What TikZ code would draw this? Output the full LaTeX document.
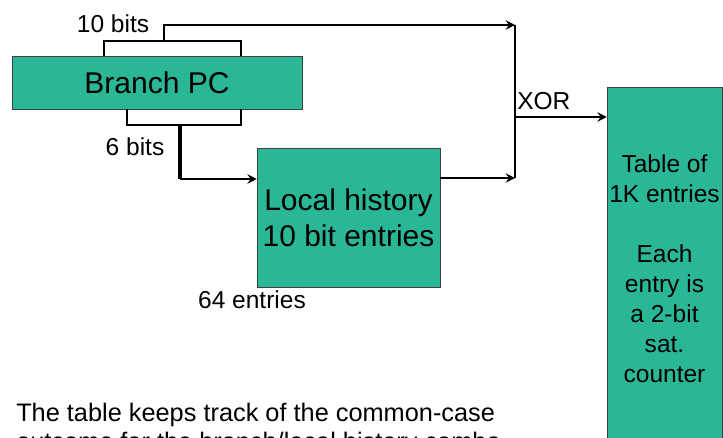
\documentclass[tikz,border=0pt]{standalone}
\usepackage{fontspec}
\setmainfont{Liberation Sans}
\usetikzlibrary{arrows.meta,positioning,calc}
\definecolor{tablegreen}{RGB}{42,183,150}

\begin{document}
\begin{tikzpicture}[x=0.75pt, y=-0.75pt,
  unitbox/.style={rectangle, draw=black!75, fill=tablegreen, inner sep=0pt,
    align=center, font=\fontsize{22.5}{27}\selectfont},
  smalltext/.style={inner sep=0pt, font=\fontsize{18.4}{22.5}\selectfont},
  wire/.style={line width=1.5pt, draw=black},
  flow/.style={wire, -{Stealth[length=7pt, width=7pt, inset=2.5pt]}}
]
  \useasboundingbox (0,0) rectangle (723,438);

  \node[unitbox, minimum width=217.5pt, minimum height=39.75pt] (pc) at (157,82.5) {Branch PC};
  \node[unitbox, minimum width=137.25pt, minimum height=104.25pt] (hist) at (348.5,217.5)
    {Local history\\10 bit entries};
  \node[unitbox, smalltext, minimum width=86.25pt, minimum height=272pt] (tab) at (664.5,268.5)
    {Table of\\1K entries\\[22.5pt]Each\\entry is\\a 2-bit\\sat.\\counter};

  \node[smalltext] (hibits) at (113,24) {10 bits};
  \node[smalltext] (lobits) at (135,147) {6 bits};
  \node[smalltext] (entries) at (252,300) {64 entries};
  \node[smalltext, anchor=south west] (xorlabel) at (517,110) {XOR};
  \node[smalltext, anchor=north west, align=left, font=\fontsize{19}{21.5}\selectfont] (note) at (16,403)
    {The table keeps track of the common-case\\outcome for the branch/local history combo};

  % bit fields taken from the PC
  \coordinate (hitap) at (164,41);
  \coordinate (lotap) at (180,125);
  \coordinate (xortop) at (515,25);
  \coordinate (xorlow) at (515,178);
  \coordinate (xor) at (515,117);

  \draw[wire] (pc.north -| 104,0) |- (241,41) -- (pc.north -| 241,0);
  \draw[wire] (pc.south -| 127,0) |- (241,125) -- (pc.south -| 241,0);

  \draw[flow] (hitap) |- (xortop);
  \draw[line width=3pt] (lotap) -- (180,179);
  \draw[flow] (180,179) -- (hist.west |- 0,179);
  \draw[flow] (hist.east |- xorlow) -- (xorlow);
  \draw[wire] (xortop) -- (xorlow);
  \draw[flow] (xor) -- (tab.west |- xor);
\end{tikzpicture}
\end{document}
